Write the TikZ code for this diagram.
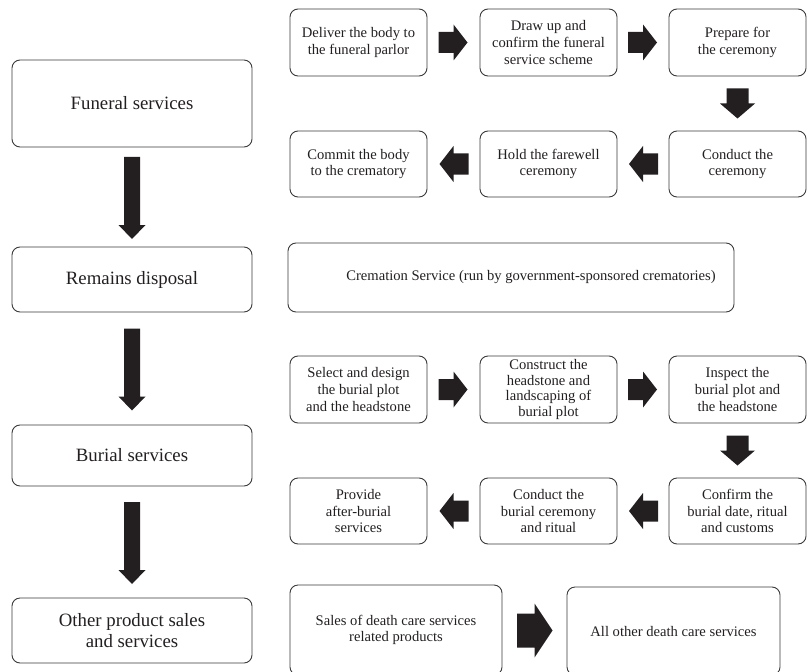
\documentclass[tikz,border=0pt]{standalone}
\usepackage{fontspec}
\setmainfont{Liberation Serif}
\usetikzlibrary{calc}
\definecolor{ink}{HTML}{231F20}
\definecolor{edge}{HTML}{3A3A3A}
\newcommand\arrR[2]{\fill[blk, shift={($(#1.east)!0.5!(#2.west)$)}] (-15,-10.5) -- (0,-10.5) -- (0,-18) -- (14,0) -- (0,18) -- (0,10.5) -- (-15,10.5) -- cycle;}
\newcommand\arrL[2]{\fill[blk, shift={($(#1.west)!0.5!(#2.east)$)}] (15,-10.5) -- (0,-10.5) -- (0,-18) -- (-14,0) -- (0,18) -- (0,10.5) -- (15,10.5) -- cycle;}
\newcommand\arrD[2]{\fill[blk, shift={($(#1.south)!0.5!(#2.north)$)}] (-11,-15) -- (11,-15) -- (11,0) -- (17.5,0) -- (0,15) -- (-17.5,0) -- (-11,0) -- cycle;}
\newcommand\arrDL[2]{\fill[blk, shift={($(#1.south)!0.5!(#2.north)$)}] (-8,-40) -- (8,-40) -- (8,28) -- (13.5,28) -- (0,42) -- (-13.5,28) -- (-8,28) -- cycle;}
\begin{document}
\begin{tikzpicture}[x=1pt,y=-1pt,
  box/.style={draw=edge, line width=0.9pt, rounded corners=8pt, align=center, text=ink, inner xsep=2pt, inner ysep=1pt},
  lbox/.style={box, minimum width=240pt, font=\fontsize{18.8}{20.5}\selectfont},
  rbox/.style={box, minimum width=137pt, font=\fontsize{14.6}{16.6}\selectfont},
  blk/.style={fill=ink, draw=none}]
\clip (0,0) rectangle (810,671);
% left column
\node[lbox, minimum height=87pt] (fun) at (132,103.5) {Funeral services};
\node[lbox, minimum height=65pt] (rem) at (132,279.5) {Remains disposal};
\node[lbox, minimum height=61pt] (bur) at (132,455.5) {Burial services};
\node[lbox, minimum height=65pt] (oth) at (132,630.5) {Other product sales\\and services};
% funeral services steps
\node[rbox, minimum height=67pt] (f1) at (358.5,42.5) {Deliver the body to\\the funeral parlor};
\node[rbox, minimum height=67pt] (f2) at (548.5,42.5) {Draw up and\\confirm the funeral\\service scheme};
\node[rbox, minimum height=67pt] (f3) at (737.5,42.5) {Prepare for\\the ceremony};
\node[rbox, minimum height=66pt] (f4) at (737.5,164) {Conduct the\\ceremony};
\node[rbox, minimum height=66pt] (f5) at (548.5,164) {Hold the farewell\\ceremony};
\node[rbox, minimum height=66pt] (f6) at (358.5,164) {Commit the body\\to the crematory};
% remains disposal
\node[rbox, minimum width=446pt, minimum height=69pt] (crem) at (511,277.5) {\hspace*{40pt}Cremation Service (run by government-sponsored crematories)};
% burial steps
\node[rbox, minimum height=67pt] (b1) at (358.5,389.5) {Select and design\\the burial plot\\and the headstone};
\node[rbox, minimum height=67pt, font=\fontsize{14.6}{15.8}\selectfont] (b2) at (548.5,389.5) {Construct the\\headstone and\\landscaping of\\burial plot};
\node[rbox, minimum height=67pt] (b3) at (737.5,389.5) {Inspect the\\burial plot and\\the headstone};
\node[rbox, minimum height=66pt] (b4) at (737.5,511) {Confirm the\\burial date, ritual\\and customs};
\node[rbox, minimum height=66pt] (b5) at (548.5,511) {Conduct the\\burial ceremony\\and ritual};
\node[rbox, minimum height=66pt] (b6) at (358.5,511) {Provide\\after-burial\\services};
% other products
\node[rbox, minimum width=212pt, minimum height=90pt] (s1) at (396,630) {Sales of death care services\\related products};
\node[rbox, minimum width=213pt, minimum height=88pt] (s2) at (673.5,631) {All other death care services};
% arrows
\arrDL{fun}{rem}
\arrDL{rem}{bur}
\arrDL{bur}{oth}
\arrR{f1}{f2}
\arrR{f2}{f3}
\arrD{f3}{f4}
\arrL{f4}{f5}
\arrL{f5}{f6}
\arrR{b1}{b2}
\arrR{b2}{b3}
\arrD{b3}{b4}
\arrL{b4}{b5}
\arrL{b5}{b6}
\fill[blk, shift={($(s1.east)!0.5!(s2.west)$)}] (-17.5,-17) -- (0,-17) -- (0,-27) -- (18,0) -- (0,27) -- (0,17) -- (-17.5,17) -- cycle;
\end{tikzpicture}
\end{document}
